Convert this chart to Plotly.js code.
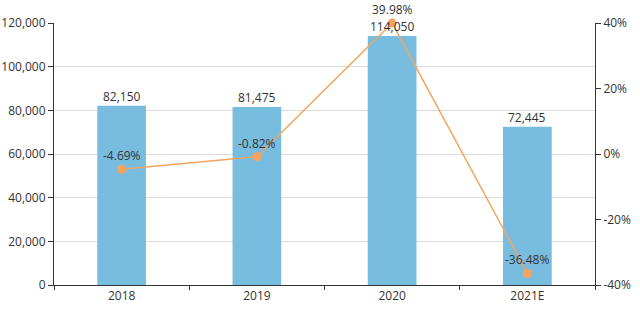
<!DOCTYPE html>
<html><head><meta charset="utf-8">
<script src="https://cdn.plot.ly/plotly-3.0.1.min.js"></script>
<style>html,body{margin:0;padding:0;background:#fff}#c{width:640px;height:309px}</style>
</head><body><div id="c"></div>
<script>
const categories = ["2018", "2019", "2020", "2021E"];
const salesValues = [82150, 81475, 114050, 72445];
const growthRates = [-4.69, -0.82, 39.98, -36.48];
const leftTicks = [0, 20000, 40000, 60000, 80000, 100000, 120000];
const rightTicks = [-40, -20, 0, 20, 40];
const rightTickLabels = ["-40%", "-20%", "0%", "20%", "40%"];

const font = "'Open Sans', 'Noto Sans', sans-serif";
const labelFont = {size: 12, color: "#333", family: font};
const data = [
  {type: "bar", x: categories, y: salesValues, marker: {color: "#78bde0"}, hoverinfo: "none"},
  {type: "scatter", mode: "lines+markers", x: categories, y: growthRates, yaxis: "y2",
   line: {color: "#f0a55e", width: 1.5}, marker: {color: "#f7a35c", size: 9},
   cliponaxis: false, hoverinfo: "none"}
];
const annotations = [];
categories.forEach((c, i) => {
  annotations.push({x: i, y: salesValues[i], xref: "x", yref: "y", text: salesValues[i].toLocaleString("en-US"),
    showarrow: false, yanchor: "bottom", yshift: 0, font: labelFont, borderpad: 0});
  annotations.push({x: i, y: growthRates[i], xref: "x", yref: "y2", text: growthRates[i].toFixed(2) + "%",
    showarrow: false, yanchor: "bottom", yshift: 4, font: labelFont, borderpad: 0});
});
const layout = {
  width: 640, height: 309, margin: {l: 54, r: 45, t: 23, b: 24},
  paper_bgcolor: "#fff", plot_bgcolor: "#fff", showlegend: false, bargap: 0.64,
  font: {family: font, size: 12, color: "#333"},
  xaxis: {type: "category", range: [-0.5, categories.length - 0.5], tickson: "boundaries", ticks: "outside", ticklen: 4, tickcolor: "#333",
    showline: true, linecolor: "#333", linewidth: 1, showgrid: false, tickfont: {size: 12, color: "#333"}},
  yaxis: {range: [0, 120000], tickmode: "array", tickvals: leftTicks, tickformat: ",", ticks: "outside", ticklen: 5,
    tickcolor: "#333", showline: true, linecolor: "#333", showgrid: true, gridcolor: "#dcdcdc",
    zeroline: false, tickfont: {size: 12, color: "#333"}},
  yaxis2: {overlaying: "y", side: "right", range: [-40, 40], tickmode: "array", tickvals: rightTicks,
    ticktext: rightTickLabels, ticks: "outside", ticklen: 5, tickcolor: "#333", showline: true, linecolor: "#333",
    showgrid: false, zeroline: false, tickfont: {size: 12, color: "#333"}},
  annotations: annotations
};
Plotly.newPlot("c", data, layout, {staticPlot: true});
</script></body></html>
